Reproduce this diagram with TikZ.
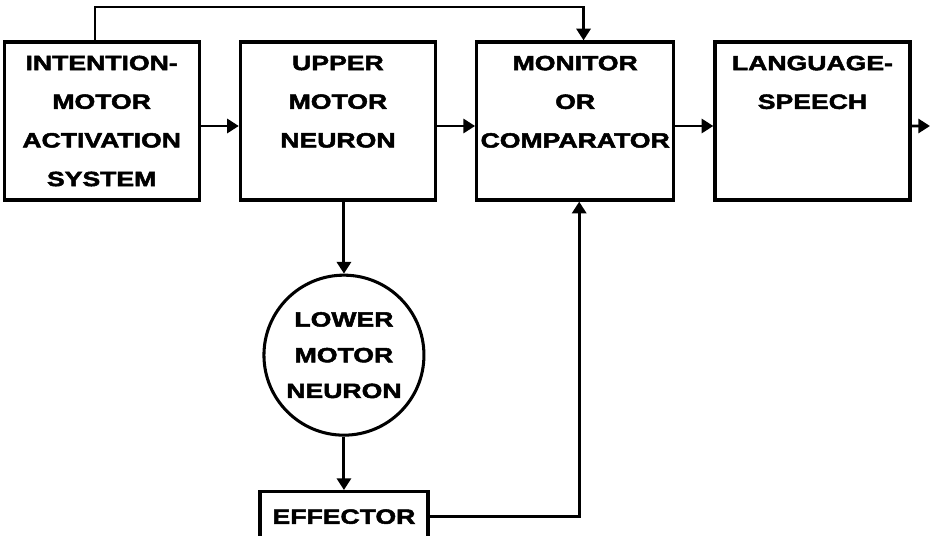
\documentclass[tikz,border=0pt]{standalone}
\usepackage{fontspec}
\newfontfamily\diagfont{Liberation Sans}[FakeStretch=1.29,FakeBold=2.4]
\usetikzlibrary{arrows.meta, positioning}

\begin{document}
\begin{tikzpicture}[node distance=1.14cm,
                    box/.style={draw, line width=2.8pt, align=center, minimum width=5.85cm, minimum height=4.74cm,
                            font=\diagfont\bfseries\fontsize{17.6}{33}\selectfont},
                    neuron/.style={draw, circle, line width=2.6pt, align=center, minimum size=4.8cm, inner sep=0pt,
                            font=\diagfont\bfseries\fontsize{17.6}{30.5}\selectfont},
                    effbox/.style={draw, line width=2.8pt, minimum width=5.04cm, minimum height=1.5cm,
                            font=\diagfont\bfseries\fontsize{17.6}{33}\selectfont},
                    arr/.style={-{Triangle[length=10pt,width=12pt]}, line width=2.5pt}]
                \clip (0,0) rectangle (27.99,-16.08);
                \node[box] (ima) at (3.05,-3.63) {INTENTION-\\MOTOR\\ACTIVATION\\SYSTEM};
                \node[box, right=of ima] (umn) {UPPER\\MOTOR\\NEURON\\~};
                \node[box, right=of umn] (mon) {MONITOR\\OR\\COMPARATOR\\~};
                \node[box, right=of mon] (lang) {LANGUAGE-\\SPEECH\\~\\~};
                \node[neuron, below=2.16cm of umn, xshift=0.18cm] (lmn) {LOWER\\MOTOR\\NEURON};
                \node[effbox, below=1.6cm of lmn] (eff) {EFFECTOR};
                \coordinate (out) at (27.9,-3.78);
                \coordinate (fb) at ([xshift=0.12cm]mon.south);
                \draw[arr] ([yshift=-0.15cm]ima.east) -- ([yshift=-0.15cm]umn.west);
                \draw[arr] ([yshift=-0.15cm]umn.east) -- ([yshift=-0.15cm]mon.west);
                \draw[arr] ([yshift=-0.15cm]mon.east) -- ([yshift=-0.15cm]lang.west);
                \draw[arr] ([yshift=-0.15cm]lang.east) -- (out);
                \draw[arr] ([xshift=-0.2cm]ima.north) -- ++(0,1) -| ([xshift=0.25cm]mon.north);
                \draw[arr] (lmn.north |- umn.south) -- (lmn.north);
                \draw[arr] (lmn.south) -- (eff.north);
                \draw[arr] (eff.east) -| (fb);
            \end{tikzpicture}
\end{document}
